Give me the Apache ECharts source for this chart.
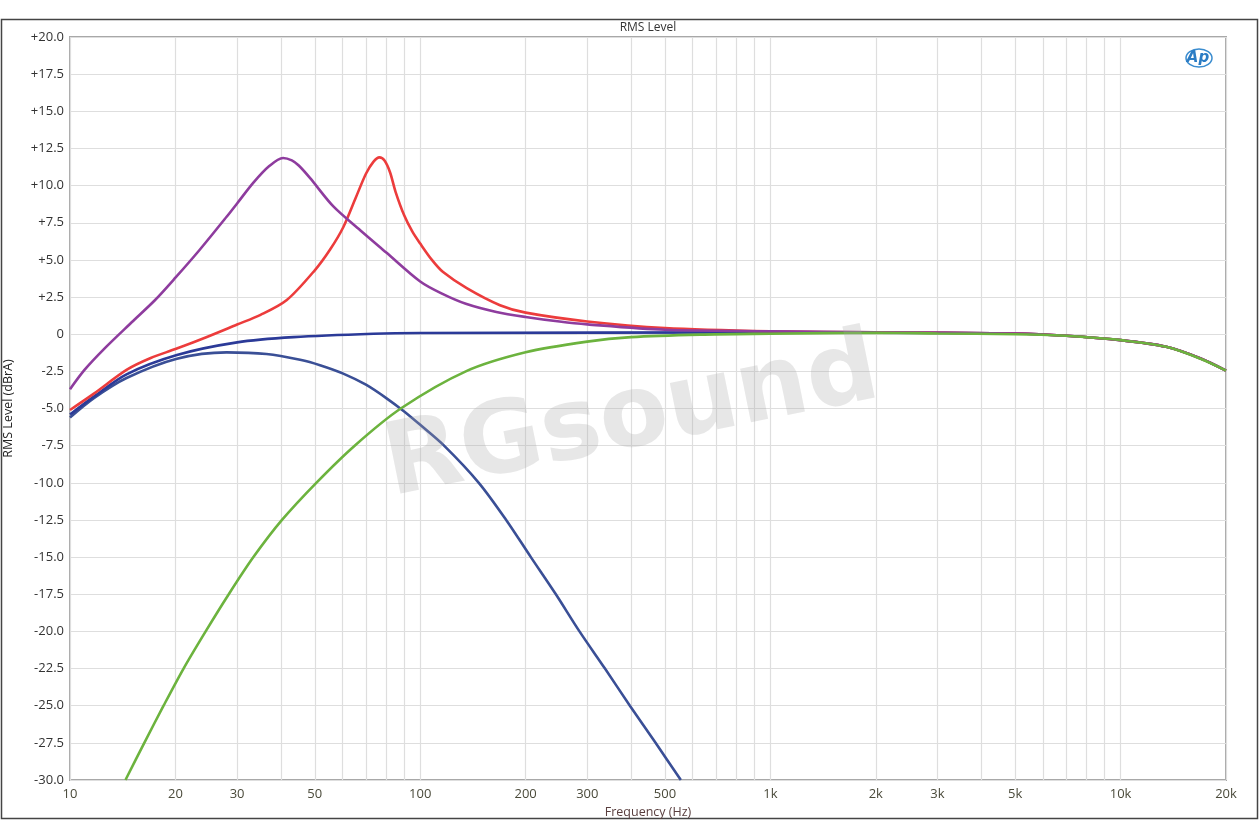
<!DOCTYPE html>
<html>
<head>
<meta charset="utf-8">
<script src="https://cdn.jsdelivr.net/npm/echarts@6/dist/echarts.min.js"></script>
<style>
html,body{margin:0;padding:0;background:#fff;}
#c{width:1260px;height:840px;}
</style>
</head>
<body>
<div id="c"></div>
<script>
// ---- data (frequency in Hz, level in dBrA) ----
const gridFreqs = [10,20,30,40,50,60,70,80,90,100,200,300,400,500,600,700,800,900,1000,2000,3000,4000,5000,6000,7000,8000,9000,10000,20000];
const labelFreqs = [10,20,30,50,100,200,300,500,1000,2000,3000,5000,10000,20000];

const purpleFreq = [10,11,12.5,15,17.5,20,23.5,28,30,33.4,37,40.6,43,45,48.5,56.5,67.4,80,100,115,135,165,200,250,300,500,1000,2000,5000,7000,10000,13500,17000,20000];
const purpleDb   = [-3.7,-2.4,-1.0,0.8,2.3,3.8,5.7,7.9,8.8,10.2,11.3,11.86,11.7,11.35,10.5,8.6,7.0,5.5,3.55,2.75,2.05,1.5,1.16,0.85,0.66,0.3,0.2,0.12,0.05,-0.1,-0.4,-0.85,-1.65,-2.45];

const redFreq = [10,11.7,14.5,17,20,24.5,30,35,41.6,50,55.3,60.3,65.5,70,73.5,76.5,79,82,85,90,95,100,108,116,135.8,169,200,300,500,1000,2000,5000,7000,10000,13500,17000,20000];
const redDb   = [-5.1,-4.0,-2.4,-1.6,-1.0,-0.2,0.65,1.3,2.3,4.3,5.7,7.2,9.2,10.8,11.6,11.9,11.7,10.9,9.6,8.0,6.9,6.1,5.0,4.2,3.1,1.95,1.45,0.86,0.42,0.2,0.12,0.05,-0.1,-0.4,-0.85,-1.65,-2.45];

const blueFlatFreq = [10,11.7,14.5,20.2,30,43.5,73.6,100,1000,2000,5000,7000,10000,13500,17000,20000];
const blueFlatDb   = [-5.4,-4.2,-2.7,-1.4,-0.55,-0.2,0.03,0.08,0.12,0.1,0.05,-0.1,-0.4,-0.85,-1.65,-2.45];

const blueLowFreq = [10,11.7,14.5,20.2,28,36.4,45.4,52,60.3,70,80,90,100,117,147,176,207,244,285,337,397,470,555];
const blueLowDb   = [-5.6,-4.3,-2.95,-1.65,-1.22,-1.33,-1.72,-2.1,-2.65,-3.4,-4.3,-5.2,-6.1,-7.5,-10,-12.5,-15,-17.5,-20,-22.5,-25,-27.5,-30];

const greenFreq = [14.4,16.3,18.5,21.1,24.4,28.4,33.4,40.3,50.5,65,88,135,200,300,400,630,1000,2000,3000,5000,7000,8000,10000,13500,16850,20000];
const greenDb   = [-30,-27.5,-25,-22.5,-20,-17.5,-15,-12.5,-10,-7.5,-5,-2.5,-1.22,-0.5,-0.2,-0.03,0.03,0.1,0.05,0.0,-0.1,-0.2,-0.4,-0.85,-1.64,-2.45];

function pairs(f, d){ return f.map((v,i)=>[v, d[i]]); }

const chart = echarts.init(document.getElementById('c'), null, {renderer:'canvas'});
const FONT = '"Open Sans", "Noto Sans", sans-serif';

function mkSeries(name, f, d, color, z){
  return {
    name, type:'line', data: pairs(f,d), showSymbol:false, smooth:0.3,
    lineStyle:{color, width:2.6}, itemStyle:{color}, z, clip:true, animation:false
  };
}

chart.setOption({
  animation:false,
  backgroundColor:'#fff',
  grid:{left:70, top:37, right:34, bottom:60, containLabel:false, outerBoundsMode:'none',
        show:true, borderColor:'#a8a8a8', borderWidth:2, backgroundColor:'transparent'},
  xAxis:{
    type:'log', logBase:10, min:10, max:20000,
    name:'Frequency (Hz)', nameLocation:'middle', nameGap:24,
    nameTextStyle:{color:'#5a3f3f', fontSize:12.5, fontFamily:FONT},
    axisLine:{show:false},
    axisTick:{show:false, customValues:gridFreqs},
    axisLabel:{customValues:labelFreqs, color:'#4a4a3a', fontSize:13, fontFamily:FONT, margin:8,
      formatter:v=> v>=1000 ? (v/1000)+'k' : String(v)},
    splitLine:{show:true, lineStyle:{color:'#dedede', width:1.2}},
    minorSplitLine:{show:false}
  },
  yAxis:{
    type:'value', min:-30, max:20, interval:2.5,
    name:'RMS Level (dBrA)', nameLocation:'middle', nameGap:55, nameRotate:90,
    nameTextStyle:{color:'#222', fontSize:12.5, fontFamily:FONT},
    axisLine:{show:false}, axisTick:{show:false},
    axisLabel:{color:'#333', fontSize:13, fontFamily:FONT, margin:6,
      formatter:v=> v>0 ? '+'+v.toFixed(1) : (v===0 ? '0' : v.toFixed(1))},
    splitLine:{show:true, lineStyle:{color:'#dedede', width:1.2}}
  },
  graphic:[
    {type:'rect', shape:{x:1.5, y:19.5, width:1256, height:799}, style:{fill:'none', stroke:'#444', lineWidth:1.5}, z:-1, silent:true},
    {type:'text', x:648, y:28, style:{text:'RMS Level', fill:'#333', font:'12px '+FONT, textAlign:'center', textVerticalAlign:'middle'}},
    {type:'text', x:632, y:420, rotation:0.2, style:{text:'RGsound', fill:'rgba(165,165,165,0.27)', font:'bold 100px "DejaVu Sans", sans-serif', textAlign:'center', textVerticalAlign:'middle'}, z:100, silent:true},
    {type:'ellipse', shape:{cx:1199, cy:58, rx:13, ry:9}, style:{fill:'none', stroke:'#3a8ccf', lineWidth:1.5}, z:101},
    {type:'text', x:1198, y:58, style:{text:'Ap', fill:'#2b7cc4', font:'italic bold 15px "DejaVu Sans", sans-serif', textAlign:'center', textVerticalAlign:'middle'}, z:102}
  ],
  series:[
    mkSeries('Low-pass', blueLowFreq, blueLowDb, '#3a4f96', 3),
    mkSeries('Flat', blueFlatFreq, blueFlatDb, '#2b3a98', 4),
    mkSeries('Boost 76 Hz', redFreq, redDb, '#ec3c3c', 5),
    mkSeries('Boost 40 Hz', purpleFreq, purpleDb, '#8e3c9e', 6),
    mkSeries('High-pass', greenFreq, greenDb, '#6cb33e', 7)
  ]
});
</script>
</body>
</html>
